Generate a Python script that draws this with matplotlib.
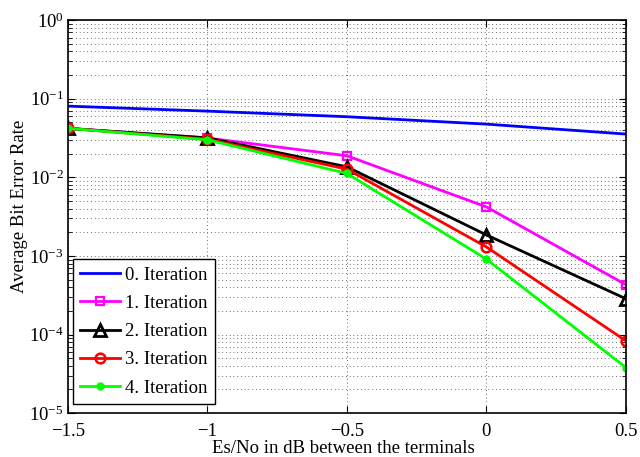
import matplotlib
matplotlib.use('Agg')
import matplotlib.pyplot as plt
from matplotlib.ticker import LogLocator, NullFormatter, FixedLocator

plt.rcParams['font.family'] = ['Liberation Serif', 'DejaVu Serif']
plt.rcParams['mathtext.fontset'] = 'stix'

es_no = [-1.5, -1.0, -0.5, 0.0, 0.5]
iter0 = [0.0805, 0.0695, 0.059, 0.0475, 0.0355]
iter1 = [0.042, 0.0316, 0.0188, 0.0042, 4.3e-4]
iter2 = [0.042, 0.0318, 0.0136, 1.85e-3, 2.85e-4]
iter3 = [0.042, 0.0305, 0.0127, 1.3e-3, 8.3e-5]
iter4 = [0.042, 0.0300, 0.0112, 9.1e-4, 3.8e-5]
labels = ['0. Iteration', '1. Iteration', '2. Iteration', '3. Iteration', '4. Iteration']
x_ticks = [-1.5, -1, -0.5, 0, 0.5]
x_tick_labels = ['\u22121.5', '\u22121', '\u22120.5', '0', '0.5']

fig = plt.figure(figsize=(6.4, 4.57), dpi=100)
ax = fig.add_axes([0.106, 0.096, 0.872, 0.860])

ax.semilogy(es_no, iter0, color='#0000ff', lw=2, label=labels[0])
ax.semilogy(es_no, iter1, color='#ff00ff', lw=2, marker='s', ms=6,
            mfc='none', mew=1.6, label=labels[1])
ax.semilogy(es_no, iter2, color='black', lw=2, marker='^', ms=9,
            mfc='none', mew=2, label=labels[2])
ax.semilogy(es_no, iter3, color='#ff0000', lw=2, marker='o', ms=7,
            mfc='none', mew=1.8, label=labels[3])
ax.semilogy(es_no, iter4, color='#00ff00', lw=2, marker='o', ms=5,
            label=labels[4])

ax.set_xlim(-1.5, 0.5)
ax.set_ylim(1e-5, 1e0)
ax.xaxis.set_major_locator(FixedLocator(x_ticks))
ax.set_xticklabels(x_tick_labels)
ax.yaxis.set_major_locator(LogLocator(base=10, numticks=10))
ax.yaxis.set_minor_locator(LogLocator(base=10, subs=range(2, 10), numticks=20))
ax.yaxis.set_minor_formatter(NullFormatter())

ax.grid(True, which='major', color='0.25', linestyle=(0, (1, 3.5)), lw=0.6)
ax.grid(True, which='minor', axis='y', color='0.25', linestyle=(0, (1, 3.5)), lw=0.6)
ax.tick_params(which='both', direction='in', top=True, right=True, labelsize=13.5)
ax.tick_params(axis='x', pad=7)
ax.tick_params(axis='y', pad=3)
ax.tick_params(which='major', length=5)
ax.tick_params(which='minor', length=3)
for s in ax.spines.values():
    s.set_linewidth(1.2)

ax.set_xlabel('Es/No in dB between the terminals', fontsize=13.5, labelpad=0)
ax.set_ylabel('Average Bit Error Rate', fontsize=13.5, labelpad=1)
ax.xaxis.label.set_x(0.493)
ax.yaxis.label.set_y(0.527)

leg = ax.legend(loc='lower left', bbox_to_anchor=(0.009, 0.023), fontsize=13.5,
                fancybox=False, edgecolor='black', framealpha=1,
                handlelength=2.1, handletextpad=0.3, borderaxespad=0,
                labelspacing=0.59, borderpad=0.4)
leg.get_frame().set_linewidth(1.0)

fig.savefig('out.png', dpi=100)
